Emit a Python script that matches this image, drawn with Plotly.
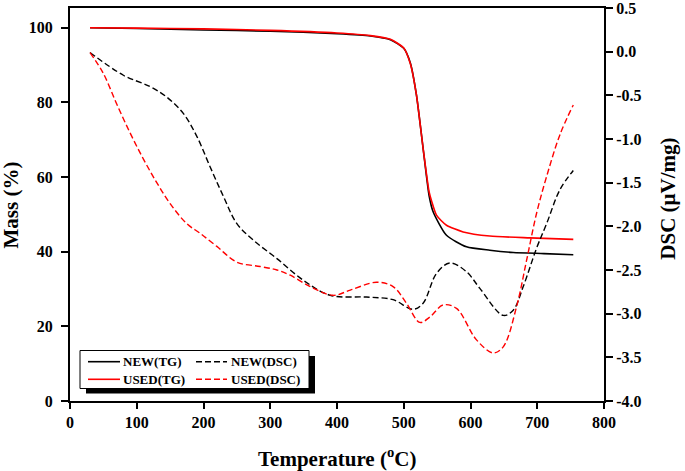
import plotly.graph_objects as go

# ---------------- data ----------------
tg_new_T = [30, 100, 200, 300, 400, 450, 480, 500, 510, 519, 529, 538, 544, 564, 594, 629, 664, 710, 754]
tg_new_M = [100, 99.8, 99.4, 99.1, 98.4, 97.8, 96.8, 94.5, 90.5, 82, 67.7, 55, 50.7, 44.4, 41.3, 40.4, 39.8, 39.5, 39.2]

tg_used_T = [30, 100, 200, 300, 400, 450, 480, 500, 510, 519, 529, 538, 542, 549, 564, 589, 629, 689, 754]
tg_used_M = [100, 99.9, 99.7, 99.3, 98.6, 97.9, 96.9, 94.6, 90.3, 82, 67.7, 56, 53.4, 49.8, 47.1, 45.3, 44.2, 43.7, 43.3]

dsc_new_T = [30, 80, 120, 145, 170, 190, 210, 230, 250, 275, 310, 350, 390, 444, 484, 514, 529, 549, 569,
             594, 614, 649, 664, 679, 699, 714, 734, 754]
dsc_new_D = [-0.01, -0.27, -0.40, -0.52, -0.71, -0.97, -1.32, -1.66, -1.97, -2.16, -2.37, -2.62, -2.79, -2.81,
             -2.84, -2.95, -2.88, -2.54, -2.42, -2.52, -2.71, -3.02, -2.96, -2.69, -2.25, -1.97, -1.58, -1.36]

dsc_used_T = [30, 50, 70, 90, 110, 130, 150, 175, 195, 220, 250, 285, 310, 330, 360, 394, 420, 459, 484, 504,
              524, 539, 559, 579, 609, 634, 649, 669, 684, 699, 714, 734, 754]
dsc_used_D = [-0.01, -0.25, -0.60, -0.93, -1.23, -1.50, -1.74, -1.97, -2.08, -2.23, -2.41, -2.46, -2.50, -2.56,
              -2.69, -2.79, -2.73, -2.64, -2.69, -2.88, -3.10, -3.04, -2.90, -2.94, -3.30, -3.45, -3.38, -2.92,
              -2.39, -1.85, -1.43, -0.95, -0.61]

x_ticks = [0, 100, 200, 300, 400, 500, 600, 700, 800]
y_ticks = [0, 20, 40, 60, 80, 100]
y2_ticks = [0.5, 0.0, -0.5, -1.0, -1.5, -2.0, -2.5, -3.0, -3.5, -4.0]
y2_labels = ["0.5", "0.0", "-0.5", "-1.0", "-1.5", "-2.0", "-2.5", "-3.0", "-3.5", "-4.0"]

legend_names = ["NEW(TG)", "NEW(DSC)", "USED(TG)", "USED(DSC)"]

FONT = "Liberation Serif"
DASH = "6px,3px"

fig = go.Figure()
fig.add_trace(go.Scatter(x=tg_new_T, y=tg_new_M, mode="lines", line=dict(color="black", width=1.6, shape="spline", smoothing=0.6), showlegend=False))
fig.add_trace(go.Scatter(x=tg_used_T, y=tg_used_M, mode="lines", line=dict(color="#ff0000", width=1.6, shape="spline", smoothing=0.6), showlegend=False))
fig.add_trace(go.Scatter(x=dsc_new_T, y=dsc_new_D, mode="lines", yaxis="y2", line=dict(color="black", width=1.4, dash=DASH, shape="spline", smoothing=1), showlegend=False))
fig.add_trace(go.Scatter(x=dsc_used_T, y=dsc_used_D, mode="lines", yaxis="y2", line=dict(color="#ff0000", width=1.4, dash=DASH, shape="spline", smoothing=1), showlegend=False))

tickfont = dict(family=FONT, size=16, color="black", weight="bold")

fig.update_layout(
    width=685, height=471,
    margin=dict(l=70, r=81, t=8, b=70, autoexpand=False),
    paper_bgcolor="white", plot_bgcolor="white",
    showlegend=False,
    xaxis=dict(range=[0, 800], tickvals=x_ticks, ticks="outside", ticklen=6, tickwidth=2, tickcolor="black",
               showline=True, linewidth=2, linecolor="black", mirror=True, showgrid=False, zeroline=False,
               tickfont=tickfont, automargin=False, ticklabeloverflow="allow"),
    yaxis=dict(range=[0, 105.3], tickvals=y_ticks, ticks="outside", ticklen=7, tickwidth=2, tickcolor="black",
               showline=True, linewidth=2, linecolor="black", showgrid=False, zeroline=False, tickfont=tickfont,
               automargin=False, ticklabelstandoff=5, ticklabeloverflow="allow"),
    yaxis2=dict(range=[-4.0001, 0.5001], overlaying="y", side="right", tickvals=y2_ticks, ticktext=y2_labels,
                ticks="outside", ticklen=7, tickwidth=2, tickcolor="black", showline=True, linewidth=2,
                linecolor="black", showgrid=False, zeroline=False, tickfont=tickfont, automargin=False,
                ticklabeloverflow="allow"),
)

title_font = dict(family=FONT, size=21, color="black", weight="bold")
fig.add_annotation(x=0.5, y=-0.145, xref="paper", yref="paper", text="Temperature (<sup>o</sup>C)",
                   showarrow=False, font=title_font, xanchor="center", yanchor="middle")
fig.add_annotation(x=-0.1105, y=0.5, xref="paper", yref="paper", text="Mass (%)", textangle=-90,
                   showarrow=False, font=title_font, xanchor="center", yanchor="middle")
fig.add_annotation(x=1.12, y=0.515, xref="paper", yref="paper", text="DSC (μV/mg)", textangle=-90,
                   showarrow=False, font=title_font, xanchor="center", yanchor="middle")

# legend box with shadow
def px2x(px):
    return (px - 70) / 534.0

def py2y(py):
    return (401 - py) / 393.0

fig.add_shape(type="rect", xref="paper", yref="paper", x0=px2x(86), x1=px2x(315), y0=py2y(393.5), y1=py2y(356),
              fillcolor="black", line=dict(width=0))
fig.add_shape(type="rect", xref="paper", yref="paper", x0=px2x(80), x1=px2x(309), y0=py2y(388.5), y1=py2y(350.5),
              fillcolor="white", line=dict(color="black", width=1))

leg_font = dict(family=FONT, size=13, color="black", weight="bold")
rows = [361.7, 379.3]
entries = [(legend_names[0], "black", "solid", 0, 0), (legend_names[1], "black", "dash", 1, 0),
           (legend_names[2], "#ff0000", "solid", 0, 1), (legend_names[3], "#ff0000", "dash", 1, 1)]
for name, col, dsh, c, r in entries:
    yy = py2y(rows[r])
    if c == 0:
        lx0, lx1, tx = 88, 120, 121
    else:
        lx0, lx1, tx = 196, 227, 229
    fig.add_shape(type="line", xref="paper", yref="paper", x0=px2x(lx0), x1=px2x(lx1), y0=yy, y1=yy,
                  line=dict(color=col, width=1.6, dash=(DASH if dsh == "dash" else "solid")))
    fig.add_annotation(x=px2x(tx), y=yy, xref="paper", yref="paper", text=name, showarrow=False,
                       font=leg_font, xanchor="left", yanchor="middle")

fig.write_html("out.html", config={"displayModeBar": False},
               post_script="document.body.style.margin='0';document.body.style.padding='0';")
